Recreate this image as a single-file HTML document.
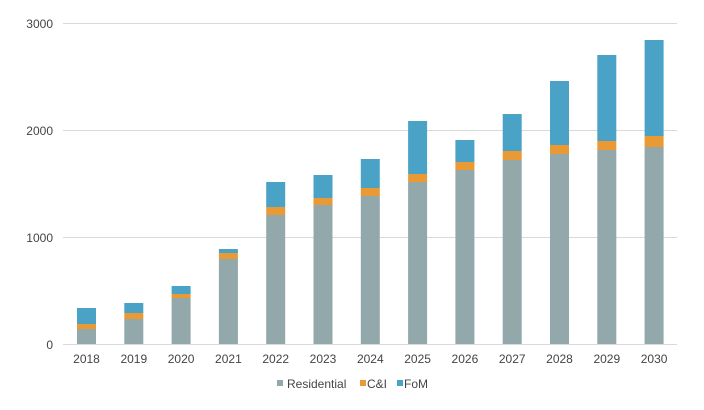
<!DOCTYPE html>
<html><head><meta charset="utf-8"><style>
html,body{margin:0;padding:0;background:#fff;}
text{font-family:"Liberation Sans",Arial,sans-serif;font-size:12px;fill:#444;}
</style></head><body>
<svg width="704" height="405" viewBox="0 0 704 405" xmlns="http://www.w3.org/2000/svg">
<g stroke="#d9d9d9" stroke-width="1">
<line x1="63" x2="677" y1="23.5" y2="23.5"/>
<line x1="63" x2="677" y1="130.5" y2="130.5"/>
<line x1="63" x2="677" y1="237.5" y2="237.5"/>
<line x1="63" x2="677" y1="344.5" y2="344.5"/>
</g>
<g text-anchor="end">
<text x="53" y="28">3000</text>
<text x="53" y="135">2000</text>
<text x="53" y="242">1000</text>
<text x="53" y="349">0</text>
</g>
<g id="bars"></g>
<g text-anchor="middle" id="xl"></g>
<rect x="277" y="380" width="6" height="6" fill="#92A8AB"/>
<text x="287" y="388">Residential</text>
<rect x="360" y="380" width="6" height="6" fill="#E99A35"/>
<text x="367" y="388">C&amp;I</text>
<rect x="397" y="380" width="6" height="6" fill="#4AA3C6"/>
<text x="404" y="388">FoM</text>
<script>
var d=[[308,324,329],[303,313,319],[286,294,298],[249,253,259],[182,207,215],[175,198,205],[159,188,196],[121,174,182],[140,162,170],[114,151,160],[81,145,154],[55,141,150],[40,136,147]];
var g=document.getElementById('bars'),xl=document.getElementById('xl'),ns='http://www.w3.org/2000/svg';
function r(x,y1,y2,c){var e=document.createElementNS(ns,'rect');e.setAttribute('x',x);e.setAttribute('y',y1);e.setAttribute('width',19);e.setAttribute('height',y2-y1);e.setAttribute('fill',c);g.appendChild(e);}
d.forEach(function(v,i){var x=77+47.3*i;r(x,v[0],v[1],'#4AA3C6');r(x,v[1],v[2],'#E99A35');r(x,v[2],344,'#92A8AB');
var t=document.createElementNS(ns,'text');t.setAttribute('x',x+9.5);t.setAttribute('y',363);t.textContent=2018+i;xl.appendChild(t);});
</script>
</svg>
</body></html>
